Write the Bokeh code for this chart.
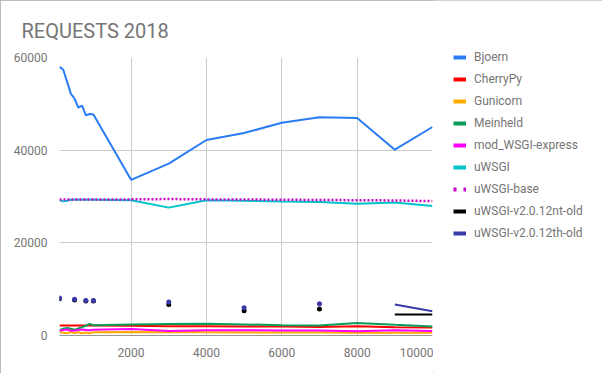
from bokeh.plotting import figure
from bokeh.layouts import row
from bokeh.models import Legend, LegendItem, FixedTicker, Span, Range1d
from bokeh.embed import file_html
from bokeh.resources import INLINE

# ---- data -------------------------------------------------------------
x_values = [100, 200, 300, 400, 500, 600, 700, 800, 900, 1000,
            2000, 3000, 4000, 5000, 6000, 7000, 8000, 9000, 10000]

bjoern = [58000, 57350, 54800, 52200, 51100, 49200, 49600, 47500, 47800, 47700,
          33600, 37100, 42200, 43700, 45900, 47100, 46950, 40100, 45000]
cherrypy = [2150, 2150, 2150, 2150, 2150, 2150, 2150, 2150, 2150, 2150,
            2100, 2000, 2000, 1950, 1950, 1850, 2000, 1800, 1700]
gunicorn = [700, 600, 500, 750, 550, 700, 500, 650, 500, 700,
            750, 700, 700, 650, 650, 650, 600, 600, 600]
meinheld = [1150, 1450, 1650, 1450, 1250, 1500, 1800, 2100, 2500, 2200,
            2400, 2500, 2550, 2400, 2200, 2150, 2700, 2300, 1950]
mod_wsgi = [1000, 1200, 1300, 1050, 1100, 1200, 1300, 1200, 1150, 1250,
            1400, 950, 1150, 1150, 1100, 1100, 900, 1150, 950]
uwsgi = [29200, 28950, 29100, 29300, 29300, 29300, 29300, 29300, 29300, 29300,
         29200, 27600, 29200, 29100, 28900, 28800, 28450, 28700, 27950]
uwsgi_base = [29350, 29350, 29350, 29350, 29350, 29350, 29350, 29350, 29350, 29350,
              29380, 29450, 29380, 29350, 29300, 29250, 29200, 29150, 29000]
uwsgi_nt_old = [7950, None, None, None, 7650, None, None, 7450, None, 7450,
                None, 6700, None, 5350, None, 5700, None, 4550, 4550]
uwsgi_th_old = [8100, None, None, None, 7800, None, None, 7550, None, 7550,
                None, 7250, None, 6000, None, 6850, None, 6700, 5250]

series_names = ["Bjoern", "CherryPy", "Gunicorn", "Meinheld", "mod_WSGI-express",
                "uWSGI", "uWSGI-base", "uWSGI-v2.0.12nt-old", "uWSGI-v2.0.12th-old"]
series_values = [bjoern, cherrypy, gunicorn, meinheld, mod_wsgi,
                 uwsgi, uwsgi_base, uwsgi_nt_old, uwsgi_th_old]
series_colors = ["#2a7cf5", "#ff0000", "#ffaa00", "#0a9d5a", "#ff00ff",
                 "#00c4c8", "#cc00cc", "#000000", "#3a3aaa"]
series_dash = [None, None, None, None, None, None, "2 2", None, None]

x_ticks = [2000, 4000, 6000, 8000, 10000]
y_ticks = [0, 20000, 40000, 60000]

FONT = "Roboto"
GREY = "#757575"

p = figure(width=433, height=373,
           x_range=Range1d(100, 10000), y_range=Range1d(0, 60000),
           output_backend="svg", toolbar_location=None,
           min_border_left=59, min_border_right=1,
           min_border_top=57, min_border_bottom=38,
           title="REQUESTS 2018")
p.frame_align = False
p.outline_line_color = None
p.background_fill_color = "white"
p.border_fill_color = "white"

p.title.text_font = FONT
p.title.text_font_size = "20px"
p.title.text_font_style = "normal"
p.title.text_color = GREY
p.title.offset = -38
p.title.standoff = 29

for ax in (p.xaxis[0], p.yaxis[0]):
    ax.axis_line_color = None
    ax.major_tick_line_color = None
    ax.minor_tick_line_color = None
    ax.major_label_text_font = FONT
    ax.major_label_text_font_size = "12px"
    ax.major_label_text_color = GREY
p.xaxis.ticker = FixedTicker(ticks=x_ticks)
p.yaxis.ticker = FixedTicker(ticks=y_ticks)
p.xaxis.major_label_standoff = 6
p.yaxis.major_label_standoff = 6

p.xgrid.ticker = FixedTicker(ticks=x_ticks)
p.ygrid.ticker = FixedTicker(ticks=y_ticks)
p.xgrid.grid_line_color = "#cccccc"
p.ygrid.grid_line_color = "#cccccc"

# legend panel (separate figure so the legend is not clipped)
q = figure(width=169, height=373, x_range=Range1d(0, 1), y_range=Range1d(0, 1),
           output_backend="svg", toolbar_location=None, title=None,
           x_axis_type=None, y_axis_type=None,
           min_border_left=0, min_border_right=0,
           min_border_top=0, min_border_bottom=0)
q.frame_align = False
q.outline_line_color = None
q.grid.visible = False
q.background_fill_color = "white"
q.border_fill_color = "white"

nan = float("nan")
legend_items = []
for name, vals, col, dash in zip(series_names, series_values, series_colors, series_dash):
    ys = [nan if v is None else v for v in vals]
    kw = dict(line_color=col, line_width=2)
    if dash:
        kw["line_dash"] = dash
        kw["line_width"] = 2.5
    p.line(x_values, ys, **kw)
    iso_x, iso_y = [], []
    n = len(vals)
    for i, v in enumerate(vals):
        if v is None:
            continue
        left_missing = i == 0 or vals[i - 1] is None
        right_missing = i == n - 1 or vals[i + 1] is None
        if left_missing and right_missing:
            iso_x.append(x_values[i])
            iso_y.append(v)
    if iso_x:
        p.scatter(iso_x, iso_y, size=5, color=col, line_color=None)
    # swatch renderer: same data, lies outside q's (0..1) ranges -> invisible
    sw = q.line(x_values, ys, line_color=col, line_width=4,
                line_dash=("3 7" if dash else "solid"))
    legend_items.append(LegendItem(label=name, renderers=[sw]))

baseline = Span(location=0, dimension="width", line_color="#333333", line_width=1)
p.add_layout(baseline)

legend = Legend(items=legend_items, location=(20, 133))
legend.glyph_width = 13
legend.glyph_height = 14
legend.label_height = 14
legend.label_standoff = 8
legend.spacing = 8
legend.padding = 0
legend.margin = 0
legend.border_line_color = None
legend.background_fill_alpha = 0
legend.label_text_font = FONT
legend.label_text_font_size = "12px"
legend.label_text_color = GREY
q.add_layout(legend, "center")

layout = row(p, q, spacing=0, width=602, height=373, sizing_mode="fixed")
layout.styles = {"outline": "1px solid #a6a6a6", "outline-offset": "-1px"}

open("out.html", "w").write(file_html(layout, INLINE))
